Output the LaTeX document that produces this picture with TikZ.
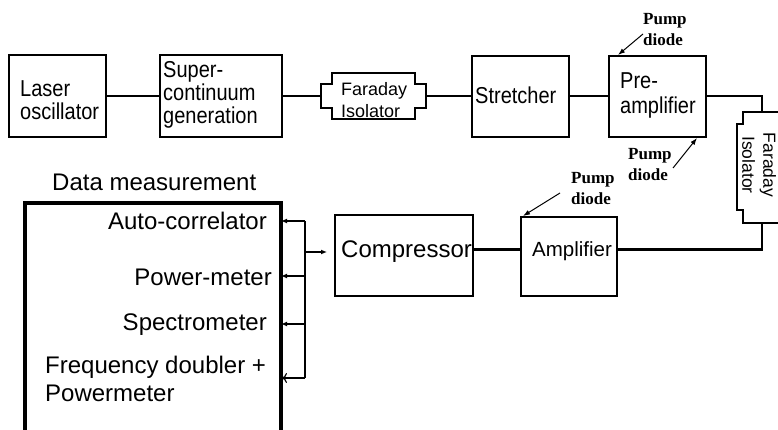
\documentclass[tikz,border=0pt]{standalone}
\usepackage{graphicx}
\usepackage{fontspec}
\setmainfont{Liberation Sans}
\newfontfamily\serifb{Liberation Serif}
\usetikzlibrary{arrows.meta,calc}
\newcommand\vst[1]{\scalebox{1}[1.15]{#1}}
\begin{document}
\begin{tikzpicture}[x=1pt,y=-1pt,
  box/.style={draw,line width=2.8pt,inner sep=0pt,outer sep=0pt},
  ghost/.style={inner sep=0pt,outer sep=0pt},
  fshape/.style={line width=2.5pt,line join=miter},
  conn/.style={line width=2.6pt},
  txt/.style={inner sep=0pt,anchor=west,align=left,font=\fontsize{20}{23}\selectfont},
  bigtxt/.style={inner sep=0pt,font=\fontsize{24}{28}\selectfont,align=left},
  fartxt/.style={inner sep=0pt,align=left,font=\fontsize{18}{22}\selectfont},
  pumptxt/.style={inner sep=0pt,anchor=west,align=left,font=\serifb\bfseries\fontsize{17}{21}\selectfont},
  parrow/.style={line width=1pt,-{Latex[length=7pt,width=5pt]}},
  busline/.style={line width=1.2pt},
  busarrow/.style={line width=1.2pt,-{Latex[length=6pt,width=5pt]}},
  openarrow/.style={line width=1.2pt,-{To[length=5pt,width=10pt]}}]
\useasboundingbox (0,0) rectangle (778,430);
\clip (0,0) rectangle (778,430);

% top row boxes
\node[box,minimum width=97pt,minimum height=82pt] (laser) at (57.5,96) {};
\node[txt] (laserT) at (20,100) {\vst{Laser}\\\vst{oscillator}};

\node[box,minimum width=122pt,minimum height=82pt] (sc) at (221,96) {};
\node[txt] (scT) at (163,95) {\vst{Super-}\\\vst{continuum}\\\vst{generation}};

\node[ghost,minimum width=105pt,minimum height=46pt] (fi1) at (373.5,96) {};
\draw[fshape] ([xshift=11pt]fi1.north west) -- ++(83,0) -- ++(0,11) -- ++(11,0) -- ++(0,24)
  -- ++(-11,0) -- ++(0,11) -- ++(-83,0) -- ++(0,-11) -- ++(-11,0) -- ++(0,-24) -- ++(11,0) -- cycle;
\node[fartxt,anchor=west] (fi1T) at (341,100) {Faraday\\Isolator};

\node[box,minimum width=97pt,minimum height=81pt] (str) at (520.5,96.5) {};
\node[txt] (strT) at (475,95) {\vst{Stretcher}};

\node[box,minimum width=97pt,minimum height=81pt] (pre) at (657.5,96.5) {};
\node[txt,font=\fontsize{20}{25}\selectfont] (preT) at (620,95.5) {\vst{Pre-}\\\vst{amplifier}};

% vertical Faraday isolator
\node[ghost,minimum width=50pt,minimum height=111pt] (fi2) at (762,167.5) {};
\draw[fshape] ([xshift=6pt]fi2.north west) -- ++(38,0) -- ++(0,12) -- ++(6,0) -- ++(0,86)
  -- ++(-6,0) -- ++(0,13) -- ++(-38,0) -- ++(0,-13) -- ++(-6,0) -- ++(0,-86) -- ++(6,0) -- cycle;
\node[fartxt,align=center,rotate=-90,font=\fontsize{17.5}{21}\selectfont] (fi2T) at (759,165) {Faraday\\Isolator};

% lower row
\node[box,minimum width=96pt,minimum height=79pt] (amp) at (569,256.5) {};
\node[txt,font=\fontsize{20.5}{24}\selectfont] (ampT) at (532,251) {Amplifier};

\node[box,minimum width=138pt,minimum height=81pt] (comp) at (404,255.5) {};
\node[bigtxt,anchor=west] (compT) at (341,252) {Compressor};

% data measurement
\node[draw,line width=4pt,inner sep=0pt,outer sep=0pt,minimum width=256pt,minimum height=250pt,anchor=north west] (data) at (25,203) {};
\node[bigtxt,anchor=west] (dataT) at (52,182) {Data measurement};
\node[bigtxt,anchor=east] (acT) at (267,221) {Auto-correlator};
\node[bigtxt,anchor=east] (pmT) at (272,277) {Power-meter};
\node[bigtxt,anchor=east] (spT) at (267,325) {Spectrometer};
\node[bigtxt,anchor=west] (fdT) at (45,379) {Frequency doubler +\\Powermeter};

% main connectors
\draw[conn] (laser.east) -- (sc.west);
\draw[conn] (sc.east) -- (fi1.west);
\draw[conn] (fi1.east) -- (str.west |- fi1.east);
\draw[conn] (str.east |- fi1.east) -- (pre.west |- fi1.east);
\draw[conn] (pre.east |- fi1.east) -| (fi2.north);
\draw[conn] (fi2.south) |- ([yshift=7pt]amp.east);
\draw[conn] ([yshift=7pt]amp.west) -- ([yshift=6pt]comp.east);

% bus to data measurement
\coordinate (b0) at (305,252);
\coordinate (b1) at (305,221);
\coordinate (b2) at (305,276);
\coordinate (b3) at (305,324);
\coordinate (b4) at (305,378);
\draw[busline] (b1) -- (b4);
\draw[busarrow,shorten >=8pt] (b0) -- (b0 -| comp.west);
\draw[busarrow] (b1) -- (b1 -| data.east);
\draw[busarrow] (b2) -- (b2 -| data.east);
\draw[busarrow] (b3) -- (b3 -| data.east);
\draw[openarrow] (b4) -- ([xshift=1pt]b4 -| data.east);

% pump diodes
\node[pumptxt] (pd1) at (643,29.5) {Pump\\diode};
\coordinate (pa1) at (643,34);
\draw[parrow] (pa1) -- ([xshift=9pt,yshift=1pt]pre.north west);

\node[pumptxt] (pd2) at (628,164.5) {Pump\\diode};
\coordinate (pa2) at (673,168);
\draw[parrow] (pa2) -- ([xshift=-9pt,yshift=-1pt]pre.south east);

\node[pumptxt] (pd3) at (571,188.5) {Pump\\diode};
\coordinate (pa3) at (560,193);
\draw[parrow] (pa3) -- ([xshift=2pt,yshift=1pt]amp.north west);
\end{tikzpicture}
\end{document}
